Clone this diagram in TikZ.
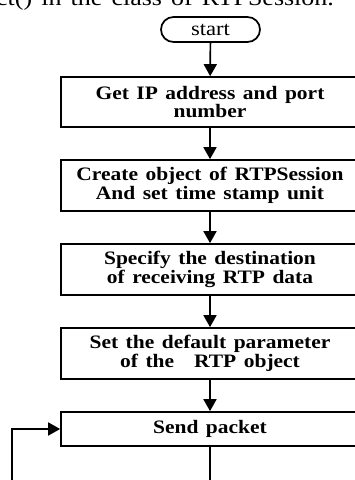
\documentclass[tikz,border=0pt]{standalone}
\usepackage{fontspec}
\setmainfont{Liberation Serif}[FakeStretch=1.13, WordSpace=1.4]
\usetikzlibrary{arrows.meta}

\tikzset{
  stepbox/.style={draw, line width=1.7pt, minimum width=298pt, align=center,
    inner sep=0pt, font=\fontsize{19}{18.4}\selectfont\bfseries},
  terminal/.style={draw, line width=1.7pt, rounded corners=12.5pt,
    minimum width=99pt, minimum height=25pt, inner sep=0pt,
    font=\fontsize{20}{20}\selectfont},
  flow/.style={line width=1.7pt, -{Triangle[length=12pt,width=13pt]}},
  plain/.style={line width=1.7pt}
}

\begin{document}
\begin{tikzpicture}[x=1pt,y=-1pt]
  \useasboundingbox (0,0) rectangle (355,480);
  \clip (0,0) rectangle (355,480);

  % running text above the chart
  \node[anchor=base west, inner sep=0pt, font=\fontsize{23}{23}\selectfont]
    (caption) at (-4,5.5) {ct() in the class of RTPSession.};

  \node[terminal] (start) at (210.5,29.5) {start};

  \node[stepbox, minimum height=50pt] (ip) at (210,102)
    {Get IP address and port\\number};
  \node[stepbox, minimum height=51pt] (sess) at (210,185.5)
    {Create object of RTPSession\\And set time stamp unit};
  \node[stepbox, minimum height=51pt] (dest) at (210,269.5)
    {Specify the destination\\of receiving RTP data};
  \node[stepbox, minimum height=51pt] (param) at (210,353.5)
    {Set the default parameter\\of the\hspace{20pt}RTP object};
  \node[stepbox, minimum height=34pt] (send) at (210,429)
    {Send packet};

  \coordinate (down) at (210,495);
  \coordinate (back) at (12,495);
  \coordinate (corner) at (12,429);

  \draw[flow] (start) -- (ip);
  \draw[flow] (ip) -- (sess);
  \draw[flow] (sess) -- (dest);
  \draw[flow] (dest) -- (param);
  \draw[flow] (param) -- (send);
  \draw[plain] (send) -- (down);
  \draw[flow] (back) -- (corner) -- (send.west);
\end{tikzpicture}
\end{document}
